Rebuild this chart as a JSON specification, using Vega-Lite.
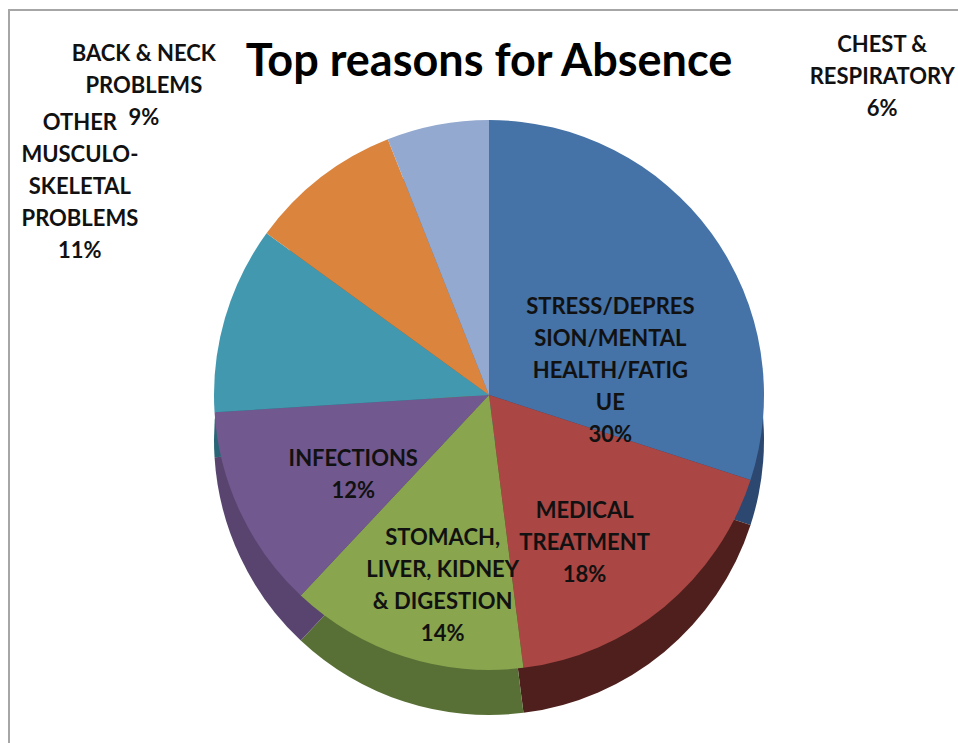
{
  "$schema": "https://vega.github.io/schema/vega-lite/v6.json",
  "autosize": {"type": "none"},
  "width": 960,
  "height": 770,
  "padding": {"left": 9, "top": 10, "right": 0, "bottom": 0},
  "background": "white",
  "view": {"stroke": "#a6a6a6", "strokeWidth": 2},
  "config": {
    "view": {"stroke": "#a6a6a6", "strokeWidth": 2},
    "text": {"font": "Lato"}
  },
  "datasets": {
    "reasons": [
      {"order": 1, "reason": "Stress/Depression/Mental Health/Fatigue", "label": "STRESS/DEPRES\nSION/MENTAL\nHEALTH/FATIG\nUE\n30%", "value": 30},
      {"order": 2, "reason": "Medical Treatment", "label": "MEDICAL\nTREATMENT\n18%", "value": 18},
      {"order": 3, "reason": "Stomach, Liver, Kidney & Digestion", "label": "STOMACH,\nLIVER, KIDNEY\n& DIGESTION\n14%", "value": 14},
      {"order": 4, "reason": "Infections", "label": "INFECTIONS\n12%", "value": 12},
      {"order": 5, "reason": "Other Musculo-Skeletal Problems", "label": "OTHER\nMUSCULO-\nSKELETAL\nPROBLEMS\n11%", "value": 11},
      {"order": 6, "reason": "Back & Neck Problems", "label": "BACK & NECK\nPROBLEMS\n9%", "value": 9},
      {"order": 7, "reason": "Chest & Respiratory", "label": "CHEST &\nRESPIRATORY\n6%", "value": 6}
    ],
    "heading": [
      {"title": "Top reasons for Absence"}
    ]
  },
  "layer": [
    {
      "data": {"name": "reasons"},
      "mark": {"type": "arc", "outerRadius": 275, "yOffset": 45},
      "encoding": {
        "theta": {"field": "value", "type": "quantitative", "stack": true},
        "order": {"field": "order", "type": "quantitative"},
        "color": {
          "field": "reason",
          "type": "nominal",
          "legend": null,
          "scale": {
            "domain": ["Stress/Depression/Mental Health/Fatigue", "Medical Treatment", "Stomach, Liver, Kidney & Digestion", "Infections", "Other Musculo-Skeletal Problems", "Back & Neck Problems", "Chest & Respiratory"],
            "range": ["#2c4770", "#4e1f1d", "#587035", "#58446f", "#2a6577", "#8f5524", "#5f6f8a"]
          }
        }
      }
    },
    {
      "data": {"name": "reasons"},
      "mark": {"type": "arc", "outerRadius": 275},
      "encoding": {
        "theta": {"field": "value", "type": "quantitative", "stack": true},
        "order": {"field": "order", "type": "quantitative"},
        "color": {
          "field": "reason",
          "type": "nominal",
          "legend": null,
          "scale": {
            "domain": ["Stress/Depression/Mental Health/Fatigue", "Medical Treatment", "Stomach, Liver, Kidney & Digestion", "Infections", "Other Musculo-Skeletal Problems", "Back & Neck Problems", "Chest & Respiratory"],
            "range": ["#4572a7", "#aa4643", "#89a54e", "#71588f", "#4198af", "#db843d", "#93a9cf"]
          }
        }
      }
    },
    {
      "data": {"name": "reasons"},
      "mark": {"type": "text", "radius": 150, "fontSize": 22, "fontWeight": "bold", "lineBreak": "\n", "lineHeight": 32, "align": "center", "baseline": "middle", "fill": "#111111"},
      "encoding": {
        "theta": {"field": "value", "type": "quantitative", "stack": true},
        "order": {"field": "order", "type": "quantitative"},
        "text": {"condition": {"test": "datum.order <= 4", "field": "label"}, "value": ""}
      }
    },
    {
      "data": {"name": "reasons"},
      "mark": {"type": "text", "radius": 400, "dx": -100, "dy": -25, "fontSize": 22, "fontWeight": "bold", "lineBreak": "\n", "lineHeight": 32, "align": "center", "baseline": "middle", "fill": "#111111"},
      "encoding": {
        "theta": {"field": "value", "type": "quantitative", "stack": true},
        "order": {"field": "order", "type": "quantitative"},
        "text": {"condition": {"test": "datum.order == 6", "field": "label"}, "value": ""}
      }
    },
    {
      "data": {"name": "reasons"},
      "mark": {"type": "text", "radius": 400, "dx": -25, "dy": -160, "fontSize": 22, "fontWeight": "bold", "lineBreak": "\n", "lineHeight": 32, "align": "center", "baseline": "middle", "fill": "#111111"},
      "encoding": {
        "theta": {"field": "value", "type": "quantitative", "stack": true},
        "order": {"field": "order", "type": "quantitative"},
        "text": {"condition": {"test": "datum.order == 5", "field": "label"}, "value": ""}
      }
    },
    {
      "data": {"name": "reasons"},
      "mark": {"type": "text", "radius": 330, "dx": 455, "dy": -26, "fontSize": 22, "fontWeight": "bold", "lineBreak": "\n", "lineHeight": 32, "align": "center", "baseline": "middle", "fill": "#111111"},
      "encoding": {
        "theta": {"field": "value", "type": "quantitative", "stack": true},
        "order": {"field": "order", "type": "quantitative"},
        "text": {"condition": {"test": "datum.order == 7", "field": "label"}, "value": ""}
      }
    },
    {
      "data": {"name": "heading"},
      "mark": {"type": "text", "radius": 333, "fontSize": 45, "fontWeight": "bold", "align": "center", "baseline": "middle", "fill": "#000000"},
      "encoding": {
        "theta": {"value": 0},
        "text": {"field": "title"}
      }
    }
  ],
  "resolve": {"scale": {"color": "independent"}}
}
